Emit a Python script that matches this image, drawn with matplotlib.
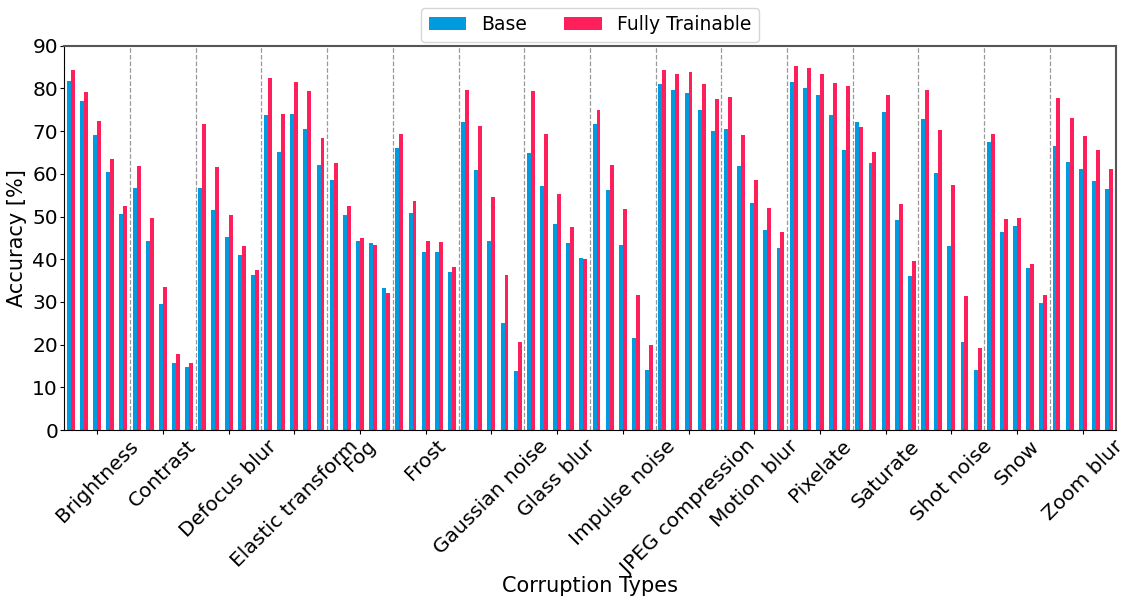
import numpy as np
import matplotlib
matplotlib.use("Agg")
import matplotlib.pyplot as plt

# corruption types, 5 severities each
categories = ["Brightness", "Contrast", "Defocus blur", "Elastic transform", "Fog",
              "Frost", "Gaussian noise", "Glass blur", "Impulse noise",
              "JPEG compression", "Motion blur", "Pixelate", "Saturate",
              "Shot noise", "Snow", "Zoom blur"]

base = [81.7, 77.0, 69.1, 60.4, 50.6,   # Brightness
        56.7, 44.3, 29.5, 15.7, 14.8,   # Contrast
        56.7, 51.5, 45.2, 41.0, 36.3,   # Defocus blur
        73.8, 65.1, 74.0, 70.5, 62.1,   # Elastic transform
        58.5, 50.4, 44.3, 43.8, 33.3,   # Fog
        66.0, 50.8, 41.7, 41.7, 37.0,   # Frost
        72.1, 60.9, 44.3, 25.1, 13.8,   # Gaussian noise
        64.9, 57.1, 48.2, 43.8, 40.3,   # Glass blur
        71.7, 56.2, 43.3, 21.5, 14.1,   # Impulse noise
        81.0, 79.6, 78.9, 74.9, 70.0,   # JPEG compression
        70.5, 61.8, 53.2, 46.8, 42.6,   # Motion blur
        81.5, 80.1, 78.5, 73.8, 65.6,   # Pixelate
        72.1, 62.5, 74.5, 49.2, 36.1,   # Saturate
        72.8, 60.2, 43.1, 20.6, 14.1,   # Shot noise
        67.4, 46.4, 47.8, 37.9, 29.7,   # Snow
        66.5, 62.8, 61.1, 58.3, 56.4]   # Zoom blur

trainable = [84.3, 79.2, 72.4, 63.5, 52.5,
             61.8, 49.6, 33.5, 17.8, 15.7,
             71.7, 61.6, 50.4, 43.1, 37.5,
             82.4, 74.0, 81.5, 79.4, 68.4,
             62.5, 52.5, 45.0, 43.3, 32.1,
             69.3, 53.6, 44.3, 44.0, 38.2,
             79.6, 71.2, 54.6, 36.3, 20.6,
             79.4, 69.3, 55.3, 47.5, 40.0,
             74.9, 62.1, 51.8, 31.6, 19.9,
             84.3, 83.4, 83.8, 81.0, 77.5,
             78.0, 69.1, 58.5, 52.0, 46.4,
             85.2, 84.8, 83.4, 81.3, 80.6,
             71.0, 65.1, 78.5, 52.9, 39.6,
             79.6, 70.3, 57.4, 31.4, 19.2,
             69.3, 49.4, 49.6, 38.9, 31.6,
             77.8, 73.1, 68.9, 65.6, 61.1]

BLUE, PINK = "#009ADE", "#FF1F5B"
W = 0.3
NSEV = 5

fig, ax = plt.subplots(figsize=(11.28, 6.05), dpi=100)
fig.subplots_adjust(left=0.057, right=0.989, top=0.9245, bottom=0.289)

x = np.arange(len(base))
ax.bar(x - W / 2, base, W, color=BLUE, label="Base")
ax.bar(x + W / 2, trainable, W, color=PINK, label="Fully Trainable")

# separators between corruption types
for k in range(1, len(categories)):
    ax.axvline(k * NSEV - 0.5, color="grey", linestyle="--", linewidth=0.9, alpha=0.8)

ax.set_xlim(-0.5, len(base) - 0.5)
ax.set_ylim(0, 90)
ax.set_yticks(np.arange(0, 91, 10))
ax.set_xticks(np.arange(len(categories)) * NSEV + 2)
ax.set_xticklabels(categories, rotation=45, ha="center")
ax.tick_params(labelsize=14.5, length=3, pad=1.5)
ax.set_xlabel("Corruption Types", fontsize=15)
ax.xaxis.set_label_coords(0.5, -0.38)
ax.set_ylabel("Accuracy [%]", fontsize=15)

for s in ("top", "right"):
    ax.spines[s].set_color("#555555")
    ax.spines[s].set_linewidth(1.5)

ax.legend(loc="lower center", bbox_to_anchor=(0.5, 1.0096), borderaxespad=0,
          ncol=2, fontsize=13.5, frameon=True, columnspacing=2.0)

fig.savefig("out.png")
